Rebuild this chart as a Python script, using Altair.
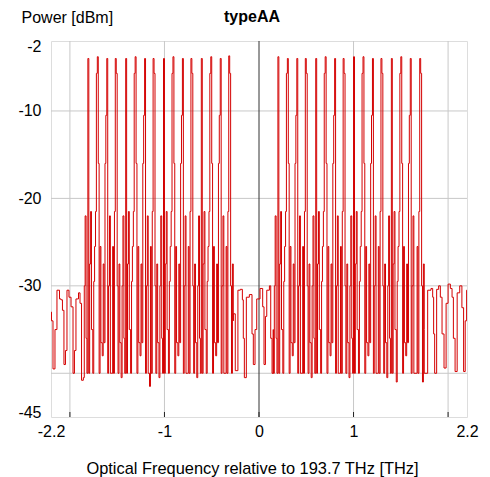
import altair as alt
import pandas as pd

# Optical spectrum, frequency in THz relative to 193.7 THz, power in dBm.
# Noise-floor segments outside / between the two channel groups (breakpoints).
NOISE_F = [-2.211, -2.195, -2.179, -2.158, -2.137, -2.110, -2.094, -2.079, -2.063, -2.047,
           -2.031, -2.010, -1.988, -1.967, -1.952, -1.936, -1.909, -1.893, -1.877,
           -0.272, -0.251, -0.223, -0.198, -0.176, -0.166, -0.155, -0.134, -0.102, -0.074,
           -0.060, -0.042, -0.024, 0.011, 0.039, 0.053, 0.068, 0.082, 0.110, 0.124, 0.138,
           0.150,
           1.748, 1.784, 1.819, 1.837, 1.847, 1.858, 1.879, 1.900, 1.918, 1.936, 1.957,
           1.979, 2.000, 2.024, 2.042, 2.056, 2.074, 2.096, 2.123, 2.146, 2.164, 2.181,
           2.196, 2.210]
NOISE_P = [-33.0, -34.0, -39.5, -35.0, -30.5, -31.5, -31.6, -32.8, -39.0, -37.4,
           -30.5, -31.3, -32.4, -40.0, -37.4, -31.5, -30.8, -32.0, -40.8,
           -33.2, -39.7, -30.5, -30.4, -31.6, -36.0, -40.5, -31.3, -31.0, -35.5,
           -39.0, -35.0, -31.5, -30.3, -32.4, -39.0, -33.5, -30.5, -30.0, -36.0, -40.0,
           -35.0,
           -40.0, -30.5, -30.3, -31.3, -35.5, -40.0, -30.4, -30.0, -31.3, -35.5, -39.4,
           -32.0, -29.8, -30.3, -31.3, -36.0, -39.8, -30.8, -30.0, -32.5, -39.8, -34.0,
           -30.5, -30.5]

# Channel peak positions (THz)
CH_CENTERS = [-1.81, -1.71, -1.61, -1.51, -1.41, -1.31, -1.21, -1.11,
              -1.01, -0.91, -0.81, -0.71, -0.61, -0.51, -0.41, -0.31,
              0.20, 0.30, 0.40, 0.50, 0.60, 0.70, 0.80, 0.90,
              1.00, 1.10, 1.20, 1.30, 1.40, 1.50, 1.60, 1.71]
# Sample offsets around each peak (THz)
STEP_OFFSETS = [-0.048, -0.038, -0.029, -0.019, -0.010, 0.0, 0.010, 0.019, 0.029, 0.038]
# Sampled levels per channel (dBm)
CH_LEVELS = [
    [-40.5, -30.0, -22.0, -36.0, -40.0, -4.0, -40.0, -27.5, -21.5, -35.0],
    [-40.0, -29.5, -25.5, -21.5, -5.7, -3.8, -16.0, -40.0, -25.5, -36.5],
    [-38.0, -27.5, -36.5, -16.0, -10.5, -4.0, -40.0, -30.0, -22.0, -40.0],
    [-40.0, -25.5, -40.0, -21.5, -4.0, -5.7, -30.0, -40.0, -27.5, -36.5],
    [-40.5, -30.0, -22.0, -36.0, -40.0, -4.0, -40.0, -27.5, -21.5, -35.0],
    [-40.0, -29.5, -25.5, -21.5, -5.7, -3.8, -16.0, -40.0, -25.5, -36.5],
    [-38.0, -27.5, -36.5, -16.0, -10.5, -4.0, -40.0, -30.0, -22.0, -40.0],
    [-41.5, -25.5, -40.0, -21.5, -4.0, -5.7, -30.0, -40.0, -27.5, -36.5],
    [-40.5, -30.0, -22.0, -36.0, -40.0, -4.0, -40.0, -27.5, -21.5, -35.0],
    [-40.0, -29.5, -25.5, -21.5, -5.7, -3.8, -16.0, -40.0, -25.5, -36.5],
    [-38.0, -27.5, -36.5, -16.0, -10.5, -4.0, -40.0, -30.0, -22.0, -40.0],
    [-40.0, -25.5, -40.0, -21.5, -4.0, -5.7, -30.0, -40.0, -27.5, -36.5],
    [-40.5, -30.0, -22.0, -36.0, -40.0, -4.0, -40.0, -27.5, -21.5, -35.0],
    [-40.0, -29.5, -25.5, -21.5, -5.7, -3.8, -16.0, -40.0, -25.5, -36.5],
    [-38.0, -27.5, -36.5, -16.0, -10.5, -4.0, -40.0, -30.0, -22.0, -40.0],
    [-40.0, -25.5, -40.0, -21.5, -3.7, -5.7, -30.0, -40.0, -27.5, -34.0],
    [-40.0, -30.0, -22.0, -36.0, -40.0, -3.8, -40.0, -27.5, -21.5, -35.0],
    [-40.0, -29.5, -25.5, -21.5, -5.7, -4.0, -16.0, -40.0, -25.5, -36.5],
    [-38.0, -27.5, -36.5, -16.0, -10.5, -4.0, -40.0, -30.0, -22.0, -40.0],
    [-40.0, -25.5, -40.0, -21.5, -4.0, -5.7, -30.0, -40.0, -27.5, -36.5],
    [-40.5, -30.0, -22.0, -36.0, -40.0, -4.0, -40.0, -27.5, -21.5, -35.0],
    [-40.0, -29.5, -25.5, -21.5, -5.7, -3.8, -16.0, -40.0, -25.5, -36.5],
    [-38.0, -27.5, -36.5, -16.0, -10.5, -4.0, -40.0, -30.0, -22.0, -40.0],
    [-40.0, -25.5, -40.0, -21.5, -4.0, -5.7, -30.0, -40.0, -27.5, -36.5],
    [-40.5, -30.0, -22.0, -36.0, -40.0, -3.8, -40.0, -27.5, -21.5, -35.0],
    [-40.0, -29.5, -25.5, -21.5, -5.7, -3.8, -16.0, -40.0, -25.5, -36.5],
    [-38.0, -27.5, -36.5, -16.0, -10.5, -4.0, -40.0, -30.0, -22.0, -40.0],
    [-40.0, -25.5, -40.0, -21.5, -4.0, -5.7, -30.0, -40.0, -27.5, -36.5],
    [-40.5, -30.0, -22.0, -36.0, -40.0, -4.0, -40.0, -27.5, -21.5, -35.0],
    [-41.0, -29.5, -25.5, -21.5, -5.7, -3.8, -16.0, -40.0, -25.5, -36.5],
    [-38.0, -27.5, -36.5, -16.0, -10.5, -4.0, -40.0, -30.0, -22.0, -40.0],
    [-40.0, -25.5, -40.0, -21.5, -4.0, -5.7, -30.0, -41.0, -27.5, -35.0],
]

X_LABELS = [-2.2, -1, 0, 1, 2.2]
X_GRID = [-2, -1, 1, 2]
X_TICKS = [-2, -1, 0, 1, 2]
Y_LABELS = [-2, -10, -20, -30, -45]
Y_GRID = [-10, -20, -30, -40]

rows = [{"f": f, "p": p} for f, p in zip(NOISE_F, NOISE_P)]
for c, levels in zip(CH_CENTERS, CH_LEVELS):
    for o, p in zip(STEP_OFFSETS, levels):
        rows.append({"f": round(c + o, 4), "p": p})
trace = pd.DataFrame(rows).sort_values("f").reset_index(drop=True)

FONT = "Liberation Sans"
FS = 16
W, H = 416, 376
xs = alt.Scale(domain=[-2.2, 2.2], nice=False, zero=False)
ys = alt.Scale(domain=[-45, -2], nice=False, zero=False)

xgrid = alt.Chart(pd.DataFrame({"f": X_GRID})).mark_rule(
    color="#c8c8c8", strokeWidth=1
).encode(x=alt.X("f:Q", scale=xs))

ygrid = alt.Chart(pd.DataFrame({"p": Y_GRID})).mark_rule(
    color="#c8c8c8", strokeWidth=1
).encode(y=alt.Y("p:Q", scale=ys))

zero = alt.Chart(pd.DataFrame({"f": [0]})).mark_rule(
    color="#333333", strokeWidth=1
).encode(x=alt.X("f:Q", scale=xs))

bticks = alt.Chart(pd.DataFrame({"f": X_TICKS})).mark_rule(
    color="#222222", strokeWidth=1
).encode(x=alt.X("f:Q", scale=xs), y=alt.value(H), y2=alt.value(H - 5))

line = alt.Chart(trace).mark_line(
    color="#d40000", strokeWidth=1, interpolate="step-after", clip=True
).encode(
    x=alt.X(
        "f:Q", scale=xs,
        axis=alt.Axis(
            values=X_LABELS, title="Optical Frequency relative to 193.7 THz [THz]",
            grid=False, ticks=False, domain=False, labelFlush=False,
            labelFont=FONT, labelFontSize=FS, labelColor="#000000", labelPadding=6,
            titleFont=FONT, titleFontSize=16.4, titleFontWeight="normal",
            titleColor="#000000", titlePadding=21, titleX=201, titleAlign="center",
            labelExpr="'' + datum.value",
        ),
    ),
    y=alt.Y(
        "p:Q", scale=ys,
        axis=alt.Axis(
            values=Y_LABELS, title="Power [dBm]", grid=False, ticks=False,
            domain=False, labelFont=FONT, labelFontSize=FS, labelColor="#000000",
            labelPadding=10, labelFlush=True, labelFlushOffset=3,
            labelExpr="'' + datum.value",
            titleFont=FONT, titleFontSize=FS,
            titleFontWeight="normal", titleColor="#000000", titleAngle=0,
            titleAlign="left", titleBaseline="middle", titleX=-30, titleY=-24,
        ),
    ),
)

title = alt.Chart(pd.DataFrame({"t": ["typeAA"]})).mark_text(
    font=FONT, fontSize=FS, fontWeight="bold", color="#000000",
    align="center", baseline="middle"
).encode(text="t:N", x=alt.value(201), y=alt.value(-24))

chart = alt.layer(xgrid, ygrid, zero, bticks, line, title).properties(
    width=W, height=H,
    autosize=alt.AutoSizeParams(type="none"),
    padding={"left": 51, "top": 41, "right": 23, "bottom": 60},
).configure_view(stroke="#000000", strokeWidth=1).configure(background="#ffffff")

chart.save("out.html", embed_options={"renderer": "svg", "actions": False})
